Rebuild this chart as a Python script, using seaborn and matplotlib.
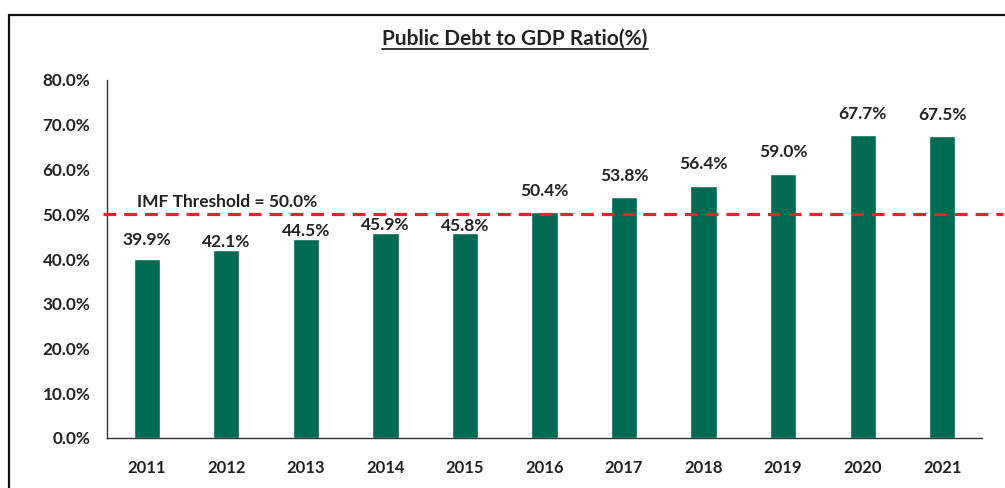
import matplotlib
matplotlib.use("Agg")
import matplotlib.pyplot as plt
from matplotlib.patches import Rectangle
from matplotlib.ticker import FixedLocator, FuncFormatter
import seaborn as sns
import pandas as pd

years = ["2011", "2012", "2013", "2014", "2015", "2016", "2017", "2018", "2019", "2020", "2021"]
debt_to_gdp = [39.9, 42.1, 44.5, 45.9, 45.8, 50.4, 53.8, 56.4, 59.0, 67.7, 67.5]
imf_threshold = 50.0
title = "Public Debt to GDP Ratio(%)"

sns.set_style("white")
plt.rcParams["font.family"] = ["Lato", "DejaVu Sans"]

bar_color = "#006b52"
text_color = "#222222"

fig = plt.figure(figsize=(10.05, 4.88), dpi=100)
ax = fig.add_axes([107 / 1005, 1 - 438 / 488, 875 / 1005, 358 / 488])

df = pd.DataFrame({"year": years, "ratio": debt_to_gdp})
sns.barplot(data=df, x="year", y="ratio", color=bar_color, saturation=1,
            width=0.33, ax=ax)

ax.set_ylim(0, 80)
ax.set_xlim(-0.5, len(years) - 0.5)
ax.set_yticks(range(0, 81, 10))
ax.yaxis.set_major_formatter(FuncFormatter(lambda v, _: f"{v:.1f}%"))
ax.set_xlabel("")
ax.set_ylabel("")

# category dividers as tick marks between bars
ax.xaxis.set_minor_locator(FixedLocator([i - 0.5 for i in range(len(years) + 1)]))
ax.tick_params(axis="x", which="major", length=0, pad=16, labelsize=12, colors=text_color)
ax.tick_params(axis="x", which="minor", length=5, width=1, direction="out", color="#333333")
ax.tick_params(axis="y", which="major", length=5, width=1, direction="out", pad=7,
               labelsize=12.3, colors=text_color, color="#333333")
for lbl in ax.get_xticklabels() + ax.get_yticklabels():
    lbl.set_fontweight("bold")

for side in ("top", "right"):
    ax.spines[side].set_visible(False)
for side in ("left", "bottom"):
    ax.spines[side].set_color("#333333")
    ax.spines[side].set_linewidth(1)

# value labels; the ones just under the threshold line sit tight on their bars
label_gap = [8, 0, 0, -0.5, -0.5, 10, 9.5, 10, 10, 9.5, 9.5]
bars = ax.containers[0]
for bar, val, gap in zip(bars, debt_to_gdp, label_gap):
    ax.annotate(f"{val:.1f}%", (bar.get_x() + bar.get_width() / 2, bar.get_height()),
                xytext=(0, gap), textcoords="offset points", ha="center", va="bottom",
                fontsize=12.5, fontweight="bold", color=text_color)

# IMF threshold line
ax.axhline(imf_threshold, xmin=-0.005, xmax=1.024, color="#e8222b", lw=2.3,
           ls=(0, (4, 2.5)), clip_on=False, zorder=3)
ax.text(-0.12, imf_threshold + 1.0, f"IMF Threshold = {imf_threshold:.1f}%",
        fontsize=12.5, fontweight="bold", color=text_color, ha="left", va="bottom")

title_txt = fig.text(515 / 1005, 1 - 45 / 488, title, ha="center", va="baseline",
                     fontsize=15, fontweight="bold", color=text_color)
# underline beneath the title text
fig.canvas.draw()
bb = title_txt.get_window_extent().transformed(fig.transFigure.inverted())
fig.add_artist(plt.Line2D([bb.x0, bb.x1], [1 - 48.5 / 488, 1 - 48.5 / 488],
                          color=text_color, lw=1.3))

# frame along the left and top edges
fig.add_artist(Rectangle((9 / 1005, -0.02), 1.05, 1 - 15 / 488 + 0.02,
                         transform=fig.transFigure, fill=False, edgecolor="#111111",
                         lw=1.6))

fig.savefig("out.png", dpi=100)
